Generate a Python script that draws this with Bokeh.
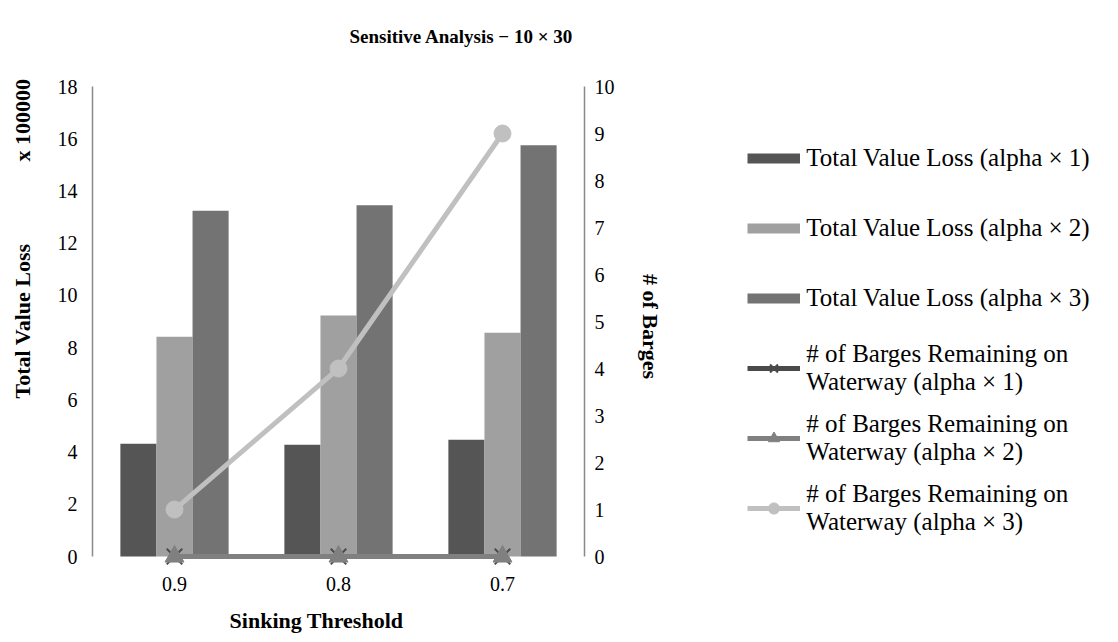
from bokeh.plotting import figure
from bokeh.models import (FactorRange, Range1d, LinearAxis, Legend, LegendItem,
                          FixedTicker, ColumnDataSource)
from bokeh.transform import dodge
from bokeh.embed import file_html
from bokeh.resources import INLINE

# ---- data ----
thresholds = ["0.9", "0.8", "0.7"]
loss_alpha1 = [4.32, 4.28, 4.47]      # x 100000
loss_alpha2 = [8.42, 9.23, 8.57]
loss_alpha3 = [13.24, 13.45, 15.75]
barges_alpha1 = [0, 0, 0]
barges_alpha2 = [0, 0, 0]
barges_alpha3 = [1, 4, 9]
left_ticks = [0, 2, 4, 6, 8, 10, 12, 14, 16, 18]
right_ticks = [0, 1, 2, 3, 4, 5, 6, 7, 8, 9, 10]

FONT = "Liberation Serif"
TICK_FS = "20px"
LAB_FS = "22px"
LEG_FS = "25px"
NB = "\u00a0"

src = ColumnDataSource(dict(x=thresholds, a1=loss_alpha1, a2=loss_alpha2, a3=loss_alpha3,
                            b1=barges_alpha1, b2=barges_alpha2, b3=barges_alpha3))

LPAD = -0.38                      # room below zero so markers are not clipped
p = figure(x_range=FactorRange(*thresholds), y_range=Range1d(LPAD, 18),
           frame_width=492, frame_height=480,
           min_border_left=92, min_border_top=86, min_border_bottom=10, min_border_right=500,
           output_backend="svg", toolbar_location=None)
p.outline_line_color = None
p.grid.grid_line_color = None
p.background_fill_color = "white"
p.border_fill_color = "white"

p.extra_y_ranges = {"barges": Range1d(LPAD * 10 / 18, 10)}

AX_COL = "#898989"

def style_axis(ax):
    ax.axis_line_color = AX_COL
    ax.axis_line_width = 1.5
    ax.major_tick_line_color = None
    ax.minor_tick_line_color = None
    ax.major_label_text_font = FONT
    ax.major_label_text_font_size = TICK_FS
    ax.major_label_text_color = "#000000"
    ax.axis_label_text_font = FONT
    ax.axis_label_text_font_size = LAB_FS
    ax.axis_label_text_font_style = "bold"
    ax.axis_label_text_color = "#000000"

# left axis
ly = p.yaxis[0]
ly.ticker = FixedTicker(ticks=left_ticks)
ly.bounds = (0, 18)
style_axis(ly)
ly.major_label_standoff = 9
ly.axis_label = NB * 32 + "Total Value Loss" + NB * 15 + "x 100000"
ly.axis_label_standoff = 20

# bottom axis
bx = p.xaxis[0]
style_axis(bx)
bx.axis_line_color = None
bx.major_label_standoff = 4
bx.axis_label = "Sinking Threshold" + NB * 8
bx.axis_label_standoff = 14

# right axis
ry = LinearAxis(y_range_name="barges", ticker=FixedTicker(ticks=right_ticks), bounds=(0, 10))
style_axis(ry)
ry.major_label_standoff = 4
ry.axis_label = "# of Barges"
ry.axis_label_standoff = 20
p.add_layout(ry, "right")

# bars
bw = 0.22
C1, C2, C3 = "#555555", "#a0a0a0", "#737373"
r1 = p.vbar(x=dodge("x", -bw, range=p.x_range), top="a1", width=bw, source=src,
            fill_color=C1, line_color=None)
r2 = p.vbar(x=dodge("x", 0, range=p.x_range), top="a2", width=bw, source=src,
            fill_color=C2, line_color=None)
r3 = p.vbar(x=dodge("x", bw, range=p.x_range), top="a3", width=bw, source=src,
            fill_color=C3, line_color=None)

# lines
L1, L2, L3 = "#4a4a4a", "#808080", "#c0c0c0"
l1 = p.line(x="x", y="b1", source=src, y_range_name="barges", line_color=L1, line_width=5)
m1 = p.scatter(x="x", y="b1", source=src, y_range_name="barges", marker="x", size=22,
               line_color=L1, line_width=2)
l2 = p.line(x="x", y="b2", source=src, y_range_name="barges", line_color=L2, line_width=5)
m2 = p.scatter(x="x", y="b2", source=src, y_range_name="barges", marker="triangle", size=19,
               fill_color=L2, line_color=L2)
l3 = p.line(x="x", y="b3", source=src, y_range_name="barges", line_color=L3, line_width=5)
m3 = p.scatter(x="x", y="b3", source=src, y_range_name="barges", marker="circle", size=17,
               fill_color=L3, line_color=L3)

# legend swatches for the bars (hidden renderers, used only for the legend)
s1 = p.line(x="x", y="a1", source=src, line_color=C1, line_width=10, visible=False)
s2 = p.line(x="x", y="a2", source=src, line_color=C2, line_width=10, visible=False)
s3 = p.line(x="x", y="a3", source=src, line_color=C3, line_width=10, visible=False)

# title (second blank line lifts it upward)
p.title.text = "Sensitive Analysis \u2212 10 \u00d7 30\n" + NB
p.title.text_font = FONT
p.title.text_font_size = "19px"
p.title.text_font_style = "bold"
p.title.text_color = "#000000"
p.title.align = "left"
p.title.offset = 257
p.title.vertical_align = "top"
p.title.standoff = 33

leg = Legend(items=[LegendItem(label="Total Value Loss (alpha \u00d7 1)", renderers=[s1]),
                    LegendItem(label="Total Value Loss (alpha \u00d7 2)", renderers=[s2]),
                    LegendItem(label="Total Value Loss (alpha \u00d7 3)", renderers=[s3]),
                    LegendItem(label="# of Barges Remaining on\nWaterway (alpha \u00d7 1)", renderers=[l1, m1]),
                    LegendItem(label="# of Barges Remaining on\nWaterway (alpha \u00d7 2)", renderers=[l2, m2]),
                    LegendItem(label="# of Barges Remaining on\nWaterway (alpha \u00d7 3)", renderers=[l3, m3])],
             location=(-141, 28), orientation="vertical",
             glyph_width=53, glyph_height=28, label_standoff=6,
             label_height=60, spacing=10, padding=0, margin=0,
             border_line_color=None, background_fill_alpha=0, inactive_fill_alpha=0,
             label_text_font=FONT, label_text_font_size=LEG_FS, label_text_color="#000000")
p.add_layout(leg, "right")

open("out.html", "w").write(file_html(p, INLINE))
